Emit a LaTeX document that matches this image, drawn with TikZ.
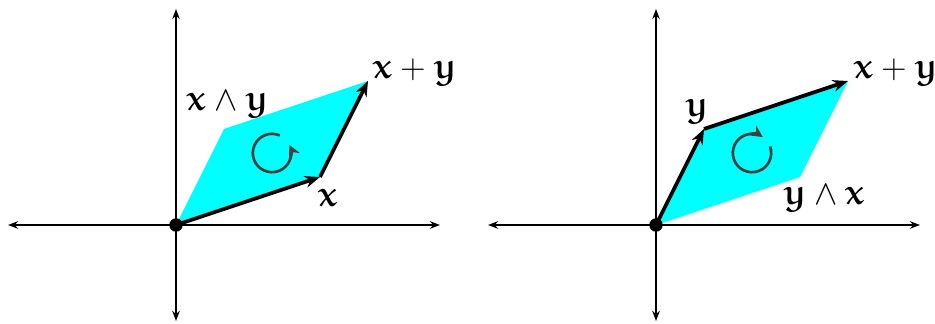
\documentclass[tikz,border=0pt]{standalone}
\usetikzlibrary{arrows.meta}
\DeclareMathAlphabet{\mathEu}{U}{eur}{b}{n}
\newcommand{\ex}{\mathEu{x}}
\newcommand{\ey}{\mathEu{y}}
\definecolor{aqua}{RGB}{0,255,255}
\definecolor{rotgray}{RGB}{64,64,64}
\begin{document}
\begin{tikzpicture}[x=1cm,y=1cm,
  axis/.style={line width=1.1pt,{Stealth[length=6pt,width=4.5pt]}-{Stealth[length=6pt,width=4.5pt]}},
  vec/.style={line width=2.2pt,-{Stealth[length=9pt,width=7pt]}},
  area/.style={fill=aqua,draw=none},
  rot/.style={line width=1.6pt,draw=rotgray,-{Stealth[length=7pt,width=7pt]}},
  lab/.style={font=\huge,inner sep=0pt},
  dot/.style={circle,fill=black,inner sep=0pt,minimum size=8pt}]
\useasboundingbox (-3.6667,-2.0417) rectangle (15.8125,4.6875);
% left panel
\begin{scope}
  \coordinate (O1) at (0,0);
  \coordinate (X1) at (3,1);
  \coordinate (Y1) at (1,2);
  \coordinate (S1) at (4,3);
  \coordinate (ax1l) at (-3.5,0);
  \coordinate (ax1r) at (5.5,0);
  \coordinate (ax1b) at (0,-2);
  \coordinate (ax1t) at (0,4.5);
  \fill[area] (O1) -- (X1) -- (S1) -- (Y1) -- cycle;
  \draw[axis] (ax1l) -- (ax1r);
  \draw[axis] (ax1b) -- (ax1t);
  \draw[vec] (O1) -- (X1);
  \draw[vec] (X1) -- (S1);
  \node[dot] (d1) at (O1) {};
  \draw[rot] ([shift={(66:0.4)}]2,1.5) arc[start angle=66,end angle=385,radius=0.4];
  \node[lab] (lx1) at (3.17,0.56) {$\ex$};
  \node[lab] (ls1) at (4.98,3.19) {$\ex+\ey$};
  \node[lab] (lw1) at (1.08,2.52) {$\ex\wedge \ey$};
\end{scope}
% right panel
\begin{scope}[xshift=10cm]
  \coordinate (O2) at (0,0);
  \coordinate (X2) at (3,1);
  \coordinate (Y2) at (1,2);
  \coordinate (S2) at (4,3);
  \coordinate (ax2l) at (-3.5,0);
  \coordinate (ax2r) at (5.5,0);
  \coordinate (ax2b) at (0,-2);
  \coordinate (ax2t) at (0,4.5);
  \fill[area] (O2) -- (X2) -- (S2) -- (Y2) -- cycle;
  \draw[axis] (ax2l) -- (ax2r);
  \draw[axis] (ax2b) -- (ax2t);
  \draw[vec] (O2) -- (Y2);
  \draw[vec] (Y2) -- (S2);
  \node[dot] (d2) at (O2) {};
  \draw[rot] ([shift={(20:0.4)}]2,1.5) arc[start angle=20,end angle=-304,radius=0.4];
  \node[lab] (ly2) at (0.85,2.37) {$\ey$};
  \node[lab] (ls2) at (5.0,3.19) {$\ex+\ey$};
  \node[lab] (lw2) at (3.5,0.56) {$\ey\wedge \ex$};
\end{scope}
\end{tikzpicture}
\end{document}
